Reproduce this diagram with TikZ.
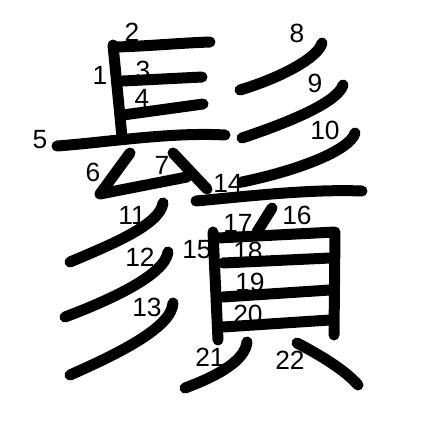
\documentclass[tikz,border=0pt]{standalone}
\usepackage{fontspec}
\setmainfont{Liberation Sans}
\usepackage{tikz}
\usepackage{xcolor}
\definecolor{kjink}{HTML}{000000}
\definecolor{kjnum}{HTML}{000000}
\tikzset{
  kjStroke/.style={draw=kjink, line width=0.22cm, line cap=round, line join=round},
  kjNum/.style={font=\fontsize{15}{15}\selectfont, text=kjnum, inner sep=0pt}
}
\begin{document}
\begin{tikzpicture}[x=0.02cm,y=-0.02cm]
  \useasboundingbox (0,0) rectangle (447,447);
  % upper left part
  \draw[kjStroke] (113,45) -- (122,137);
  \draw[kjStroke] (116,47) .. controls (150,46) and (180,43) .. (210,42);
  \draw[kjStroke] (123,81) -- (202,77);
  \draw[kjStroke] (123,115) -- (203,104);
  \draw[kjStroke] (57,146) .. controls (110,142) and (170,132) .. (225,135);
  \draw[kjStroke] (130,153) -- (100,194) -- (187,177);
  \draw[kjStroke] (173,153) -- (207,189);
  % the three sweeps
  \draw[kjStroke] (322,43) .. controls (318,58) and (280,78) .. (240,90);
  \draw[kjStroke] (343,85) .. controls (338,102) and (290,122) .. (242,138);
  \draw[kjStroke] (355,133) .. controls (350,150) and (300,170) .. (242,182);
  % lower left sweeps
  \draw[kjStroke] (163,203) .. controls (160,225) and (110,245) .. (70,262);
  \draw[kjStroke] (168,252) .. controls (165,275) and (110,300) .. (65,317);
  \draw[kjStroke] (173,303) .. controls (172,328) and (115,355) .. (70,375);
  % right part
  \draw[kjStroke] (196,201) .. controls (250,196) and (310,189) .. (362,191);
  \draw[kjStroke] (213,232) -- (218,340);
  \draw[kjStroke] (218,238) -- (335,232) -- (334,335);
  \draw[kjStroke] (272,208) -- (257,232);
  \draw[kjStroke] (223,263) -- (330,258);
  \draw[kjStroke] (223,297) -- (330,290);
  \draw[kjStroke] (223,327) -- (330,320);
  \draw[kjStroke] (247,342) .. controls (245,360) and (220,375) .. (185,388);
  \draw[kjStroke] (297,343) .. controls (320,355) and (345,370) .. (358,385);
  % stroke numbers
  \foreach \n/\px/\py in {1/100/75, 2/132/32, 3/143/70, 4/142/98, 5/40/140,
      6/93/172, 7/162/165, 8/297/33, 9/315/83, 10/325/130, 11/132/215,
      12/140/257, 13/147/307, 14/228/183, 15/197/250, 16/297/215,
      17/238/223, 18/248/251, 19/250/282, 20/248/314, 21/210/357, 22/290/360}
    \node[kjNum] (num\n) at (\px,\py) {\n};
\end{tikzpicture}
\end{document}
